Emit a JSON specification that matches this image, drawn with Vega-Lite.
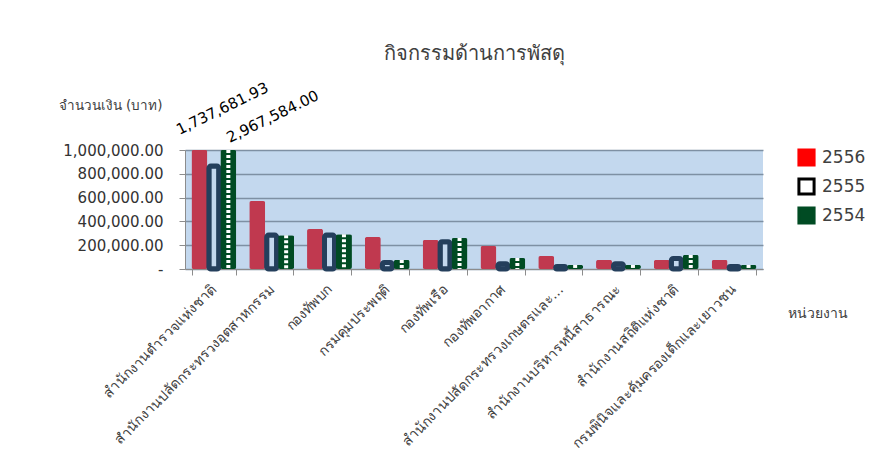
{
  "$schema": "https://vega.github.io/schema/vega-lite/v6.json",
  "width": 578,
  "height": 119,
  "autosize": {"type": "none"},
  "padding": {"left": 185, "top": 150, "right": 126, "bottom": 183},
  "background": "white",
  "config": {
    "view": {"fill": "#C3D8EE", "stroke": null},
    "font": "DejaVu Sans"
  },
  "title": {
    "text": "กิจกรรมด้านการพัสดุ",
    "fontSize": 20,
    "fontWeight": "normal",
    "color": "#404040",
    "anchor": "middle",
    "offset": 16
  },
  "data": {
    "values": [
      {"org": "สำนักงานตำรวจแห่งชาติ", "year": "2556", "value": 1737681.93},
      {"org": "สำนักงานตำรวจแห่งชาติ", "year": "2555", "value": 865000},
      {"org": "สำนักงานตำรวจแห่งชาติ", "year": "2554", "value": 2967584.00},
      {"org": "สำนักงานปลัดกระทรวงอุตสาหกรรม", "year": "2556", "value": 571000},
      {"org": "สำนักงานปลัดกระทรวงอุตสาหกรรม", "year": "2555", "value": 285000},
      {"org": "สำนักงานปลัดกระทรวงอุตสาหกรรม", "year": "2554", "value": 283000},
      {"org": "กองทัพบก", "year": "2556", "value": 336000},
      {"org": "กองทัพบก", "year": "2555", "value": 285000},
      {"org": "กองทัพบก", "year": "2554", "value": 291000},
      {"org": "กรมคุมประพฤติ", "year": "2556", "value": 269000},
      {"org": "กรมคุมประพฤติ", "year": "2555", "value": 55000},
      {"org": "กรมคุมประพฤติ", "year": "2554", "value": 76000},
      {"org": "กองทัพเรือ", "year": "2556", "value": 244000},
      {"org": "กองทัพเรือ", "year": "2555", "value": 230000},
      {"org": "กองทัพเรือ", "year": "2554", "value": 260000},
      {"org": "กองทัพอากาศ", "year": "2556", "value": 193000},
      {"org": "กองทัพอากาศ", "year": "2555", "value": 45000},
      {"org": "กองทัพอากาศ", "year": "2554", "value": 92000},
      {"org": "สำนักงานปลัดกระทรวงเกษตรและ...", "year": "2556", "value": 109000},
      {"org": "สำนักงานปลัดกระทรวงเกษตรและ...", "year": "2555", "value": 22000},
      {"org": "สำนักงานปลัดกระทรวงเกษตรและ...", "year": "2554", "value": 34000},
      {"org": "สำนักงานบริหารหนี้สาธารณะ", "year": "2556", "value": 76000},
      {"org": "สำนักงานบริหารหนี้สาธารณะ", "year": "2555", "value": 45000},
      {"org": "สำนักงานบริหารหนี้สาธารณะ", "year": "2554", "value": 34000},
      {"org": "สำนักงานสถิติแห่งชาติ", "year": "2556", "value": 76000},
      {"org": "สำนักงานสถิติแห่งชาติ", "year": "2555", "value": 88000},
      {"org": "สำนักงานสถิติแห่งชาติ", "year": "2554", "value": 118000},
      {"org": "กรมพินิจและคุ้มครองเด็กและเยาวชน", "year": "2556", "value": 76000},
      {"org": "กรมพินิจและคุ้มครองเด็กและเยาวชน", "year": "2555", "value": 22000},
      {"org": "กรมพินิจและคุ้มครองเด็กและเยาวชน", "year": "2554", "value": 34000}
    ]
  },
  "encoding": {
    "x": {
      "field": "org",
      "type": "nominal",
      "sort": null,
      "scale": {"type": "band", "paddingInner": 0.25, "paddingOuter": 0.125},
      "axis": {
        "title": "หน่วยงาน",
        "titleX": 602,
        "titleY": 44,
        "titleAlign": "left",
        "titleBaseline": "middle",
        "titleFontSize": 14,
        "titleFontWeight": "normal",
        "titleColor": "#404040",
        "labelAngle": -45,
        "labelAlign": "right",
        "labelBaseline": "middle",
        "labelFontSize": 14,
        "labelColor": "#404040",
        "labelPadding": 12,
        "labelLimit": 400,
        "tickBand": "extent",
        "tickSize": 6,
        "tickColor": "#8C8C8C",
        "domainColor": "#8C8C8C",
        "grid": false
      }
    },
    "xOffset": {
      "field": "year",
      "type": "nominal",
      "scale": {"type": "band", "domain": ["2556", "2555", "2554"], "paddingInner": 0, "paddingOuter": 0}
    },
    "y": {
      "field": "value",
      "type": "quantitative",
      "scale": {"domain": [0, 1000000], "nice": false, "zero": true, "clamp": true},
      "axis": {
        "title": "จำนวนเงิน (บาท)",
        "titleAngle": 0,
        "titleAlign": "right",
        "titleBaseline": "middle",
        "titleX": -23,
        "titleY": -45,
        "titleFontSize": 13.5,
        "titleFontWeight": "normal",
        "titleColor": "#404040",
        "values": [0, 200000, 400000, 600000, 800000, 1000000],
        "labelExpr": "datum.value == 0 ? '-' : format(datum.value, ',.2f')",
        "labelFontSize": 15,
        "labelColor": "#333333",
        "labelPadding": 16,
        "tickSize": 6,
        "tickColor": "#8C8C8C",
        "domainColor": "#8C8C8C",
        "gridColor": "#7E90A3",
        "gridWidth": 1.5
      }
    }
  },
  "layer": [
    {
      "transform": [{"filter": "datum.value < 0"}],
      "mark": {"type": "bar", "size": 15},
      "encoding": {
        "fill": {
          "field": "year",
          "type": "nominal",
          "scale": {"domain": ["2556", "2555", "2554"], "range": ["#FF0000", "#FFFFFF", "#004B23"]},
          "legend": {
            "orient": "none",
            "legendX": 612,
            "legendY": -2,
            "title": null,
            "padding": 0,
            "symbolType": "square",
            "symbolSize": 230,
            "symbolStrokeWidth": 3,
            "labelFontSize": 17,
            "labelColor": "#404040",
            "labelOffset": 6,
            "rowPadding": 0,
            "encode": {
              "symbols": {
                "update": {
                  "stroke": {"signal": "datum.label == '2556' ? '#FF0000' : datum.label == '2555' ? '#000000' : '#004B23'"},
                  "strokeWidth": {"value": 3}
                }
              }
            }
          }
        }
      }
    },
    {
      "transform": [{"filter": "datum.year == '2556'"}],
      "mark": {"type": "bar", "size": 16, "fill": "#C0394F", "cornerRadius": 2}
    },
    {
      "transform": [{"filter": "datum.year == '2555'"}],
      "mark": {"type": "bar", "size": 10, "fill": "#C3D8EE", "stroke": "#243F5C", "strokeWidth": 5, "cornerRadius": 2}
    },
    {
      "transform": [{"filter": "datum.year == '2554'"}],
      "mark": {"type": "bar", "size": 16, "fill": "#004B23", "cornerRadius": 2}
    },
    {
      "transform": [{"filter": "datum.year == '2554'"}],
      "mark": {"type": "rule", "color": "#FFFFFF", "strokeWidth": 4, "strokeDash": [3, 2]},
      "encoding": {"y2": {"datum": 0}}
    },
    {
      "transform": [{"filter": "datum.year == '2556' && datum.value > 1000000"}],
      "mark": {"type": "text", "angle": -26, "align": "left", "baseline": "alphabetic", "fontSize": 15, "color": "#000000", "dx": -11.4, "dy": -22.2},
      "encoding": {
        "y": {"datum": 1000000},
        "text": {"field": "value", "type": "quantitative", "format": ",.2f"}
      }
    },
    {
      "transform": [{"filter": "datum.year == '2554' && datum.value > 1000000"}],
      "mark": {"type": "text", "angle": -26, "align": "left", "baseline": "alphabetic", "fontSize": 15, "color": "#000000", "dx": 4.4, "dy": -5.6},
      "encoding": {
        "y": {"datum": 1000000},
        "text": {"field": "value", "type": "quantitative", "format": ",.2f"}
      }
    }
  ]
}
